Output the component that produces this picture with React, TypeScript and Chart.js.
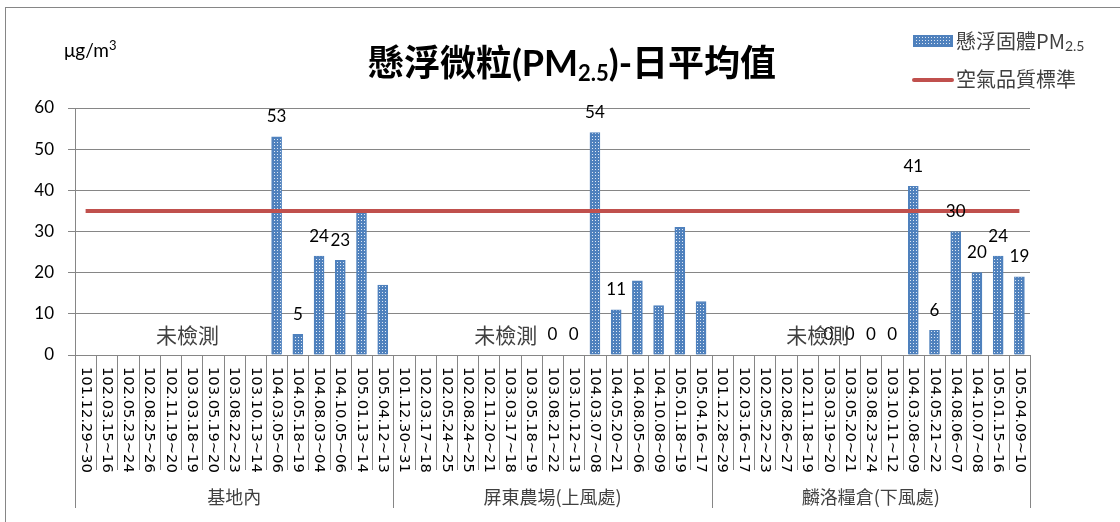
import { useEffect, useRef } from 'react';
import { Chart, registerables } from 'chart.js';
Chart.register(...registerables);

const groupNames = ['基地內', '屏東農場(上風處)', '麟洛糧倉(下風處)'];

const dates1 = ['101.12.29~30', '102.03.15~16', '102.05.23~24', '102.08.25~26', '102.11.19~20', '103.03.18~19', '103.05.19~20', '103.08.22~23', '103.10.13~14', '104.03.05~06', '104.05.18~19', '104.08.03~04', '104.10.05~06', '105.01.13~14', '105.04.12~13'];
const dates2 = ['101.12.30~31', '102.03.17~18', '102.05.24~25', '102.08.24~25', '102.11.20~21', '103.03.17~18', '103.05.18~19', '103.08.21~22', '103.10.12~13', '104.03.07~08', '104.05.20~21', '104.08.05~06', '104.10.08~09', '105.01.18~19', '105.04.16~17'];
const dates3 = ['101.12.28~29', '102.03.16~17', '102.05.22~23', '102.08.26~27', '102.11.18~19', '103.03.19~20', '103.05.20~21', '103.08.23~24', '103.10.11~12', '104.03.08~09', '104.05.21~22', '104.08.06~07', '104.10.07~08', '105.01.15~16', '105.04.09~10'];

const values1 = [null, null, null, null, null, null, null, null, null, 53, 5, 24, 23, 35, 17];
const values2 = [null, null, null, null, null, null, null, 0, 0, 54, 11, 18, 12, 31, 13];
const values3 = [null, null, null, null, null, 0, 0, 0, 0, 41, 6, 30, 20, 24, 19];

const labeled1 = [false, false, false, false, false, false, false, false, false, true, true, true, true, false, false];
const labeled2 = [false, false, false, false, false, false, false, true, true, true, true, false, false, false, false];
const labeled3 = [false, false, false, false, false, true, true, true, true, true, true, true, true, true, true];

const standard = [35, 35, 35, 35, 35, 35, 35, 35, 35, 35, 35, 35, 35, 35, 35,
  35, 35, 35, 35, 35, 35, 35, 35, 35, 35, 35, 35, 35, 35, 35,
  35, 35, 35, 35, 35, 35, 35, 35, 35, 35, 35, 35, 35, 35, 35];

const yTicks = [0, 10, 20, 30, 40, 50, 60];
const notMeasuredText = '未檢測';
const notMeasuredIndex = [4.8, 4.8, 4.5];

const categories = [...dates1, ...dates2, ...dates3];
const pm25 = [...values1, ...values2, ...values3];
const labeled = [...labeled1, ...labeled2, ...labeled3];
const groupSize = dates1.length;

const LAT = "Lato, 'Noto Sans CJK TC', sans-serif";
const CJK = "'Noto Sans CJK TC', Lato, sans-serif";
const GRID = '#868686';
const BLUE = '#4F81BD';
const RED = '#C0504D';

function makePattern(): CanvasPattern | string {
  const c = document.createElement('canvas');
  c.width = 3;
  c.height = 3;
  const g = c.getContext('2d');
  if (!g) return BLUE;
  g.fillStyle = BLUE;
  g.fillRect(0, 0, 3, 3);
  g.fillStyle = '#dfe8f4';
  g.fillRect(1, 1, 1, 1);
  const p = g.createPattern(c, 'repeat');
  return p || BLUE;
}

type Part = { text: string; font: string; dy: number };
function drawRich(ctx: CanvasRenderingContext2D, parts: Part[], x: number, y: number, align: 'center' | 'left', color: string) {
  ctx.save();
  ctx.fillStyle = color;
  ctx.textBaseline = 'middle';
  ctx.textAlign = 'left';
  let total = 0;
  const widths = parts.map((p) => {
    ctx.font = p.font;
    const w = ctx.measureText(p.text).width;
    total += w;
    return w;
  });
  let cx = align === 'center' ? x - total / 2 : x;
  parts.forEach((p, i) => {
    ctx.font = p.font;
    ctx.fillText(p.text, cx, y + p.dy);
    cx += widths[i];
  });
  ctx.restore();
}

export default function App() {
  const ref = useRef<HTMLCanvasElement | null>(null);

  useEffect(() => {
    if (!ref.current) return;
    const pattern = makePattern();

    const extras = {
      id: 'extras',
      beforeDraw(chart: any) {
        const ctx: CanvasRenderingContext2D = chart.ctx;
        ctx.save();
        ctx.fillStyle = '#ffffff';
        ctx.fillRect(0, 0, chart.width, chart.height);
        ctx.strokeStyle = GRID;
        ctx.lineWidth = 1;
        ctx.strokeRect(5.5, 7.5, chart.width + 20, chart.height + 20);
        ctx.restore();
      },
      afterDatasetsDraw(chart: any) {
        const ctx: CanvasRenderingContext2D = chart.ctx;
        const meta = chart.getDatasetMeta(1);
        const y = chart.scales.y;
        ctx.save();
        ctx.fillStyle = '#000000';
        ctx.font = `17px ${LAT}`;
        ctx.textAlign = 'center';
        ctx.textBaseline = 'middle';
        meta.data.forEach((el: any, i: number) => {
          const v = pm25[i];
          if (v === null || !labeled[i]) return;
          ctx.fillText(String(v), el.x, y.getPixelForValue(v) - 20);
        });
        ctx.restore();
      },
      afterDraw(chart: any) {
        const ctx: CanvasRenderingContext2D = chart.ctx;
        const x = chart.scales.x;
        const y = chart.scales.y;
        const area = chart.chartArea;
        const bottom = area.bottom;
        ctx.save();
        ctx.strokeStyle = GRID;
        ctx.lineWidth = 1;
        for (let i = 0; i <= categories.length; i++) {
          const px = Math.round(x.getPixelForValue(i - 0.5)) + 0.5;
          const isGroup = i % groupSize === 0;
          ctx.beginPath();
          ctx.moveTo(px, bottom);
          ctx.lineTo(px, bottom + (isGroup ? 153 : 115));
          ctx.stroke();
        }
        ctx.fillStyle = '#000000';
        ctx.font = "14.7px 'DejaVu Sans', sans-serif";
        ctx.textAlign = 'left';
        ctx.textBaseline = 'middle';
        categories.forEach((c, i) => {
          const px = x.getPixelForValue(i);
          ctx.save();
          ctx.translate(px, bottom + 12);
          ctx.rotate(Math.PI / 2);
          ctx.fillText(c, 0, 0);
          ctx.restore();
        });
        ctx.fillStyle = '#404040';
        ctx.font = `18px ${CJK}`;
        ctx.textAlign = 'center';
        groupNames.forEach((g, gi) => {
          const px = x.getPixelForValue(gi * groupSize + (groupSize - 1) / 2);
          ctx.fillText(g, px, bottom + 142);
        });
        ctx.font = `21px ${CJK}`;
        notMeasuredIndex.forEach((idx, gi) => {
          const px = x.getPixelForValue(gi * groupSize + idx);
          ctx.fillText(notMeasuredText, px, y.getPixelForValue(5) + 1);
        });
        ctx.restore();

        drawRich(ctx, [
          { text: 'μg/m', font: `19px ${LAT}`, dy: 0 },
          { text: '3', font: `13px ${LAT}`, dy: -5 },
        ], 64, 51, 'left', '#000000');

        drawRich(ctx, [
          { text: '懸浮微粒(PM', font: `bold 36px ${LAT}`, dy: 0 },
          { text: '2.5', font: `bold 22px ${LAT}`, dy: 10 },
          { text: ')-日平均值', font: `bold 36px ${LAT}`, dy: 0 },
        ], 572, 64, 'center', '#000000');

        ctx.save();
        ctx.fillStyle = pattern as any;
        ctx.fillRect(913, 35, 40, 12);
        ctx.strokeStyle = BLUE;
        ctx.lineWidth = 1;
        ctx.strokeRect(913.5, 35.5, 39, 11);
        ctx.strokeStyle = RED;
        ctx.lineWidth = 4;
        ctx.lineCap = 'round';
        ctx.beginPath();
        ctx.moveTo(914, 80);
        ctx.lineTo(952, 80);
        ctx.stroke();
        ctx.restore();
        drawRich(ctx, [
          { text: '懸浮固體PM', font: `20px ${CJK}`, dy: 0 },
          { text: '2.5', font: `14px ${LAT}`, dy: 5 },
        ], 956, 41, 'left', '#404040');
        drawRich(ctx, [
          { text: '空氣品質標準', font: `20px ${CJK}`, dy: 0 },
        ], 956, 79, 'left', '#404040');
      },
    };

    const chart = new Chart(ref.current, {
      type: 'bar',
      data: {
        labels: categories,
        datasets: [
          {
            type: 'line',
            label: '空氣品質標準',
            data: standard,
            borderColor: RED,
            borderWidth: 4,
            pointRadius: 0,
            fill: false,
            order: 0,
          } as any,
          {
            type: 'bar',
            label: '懸浮固體PM2.5',
            data: pm25,
            backgroundColor: pattern as any,
            borderColor: BLUE,
            borderWidth: 1,
            barThickness: 10,
            order: 1,
          } as any,
        ],
      },
      options: {
        animation: false,
        responsive: true,
        maintainAspectRatio: false,
        layout: { padding: { left: 0, top: 108, right: 90, bottom: 167 } },
        plugins: {
          legend: { display: false },
          title: { display: false },
          tooltip: { enabled: false },
        },
        scales: {
          x: {
            display: false,
            offset: true,
          },
          y: {
            min: 0,
            max: 60,
            afterFit(scale: any) {
              scale.width = 75;
            },
            afterBuildTicks(scale: any) {
              scale.ticks = yTicks.map((v) => ({ value: v }));
            },
            ticks: {
              color: '#000000',
              font: { family: LAT, size: 17 },
              padding: 14,
            },
            grid: {
              color: GRID,
              lineWidth: 1,
              tickLength: 7,
              drawTicks: true,
            },
            border: { display: true, color: GRID, width: 1 },
          },
        },
      },
      plugins: [extras],
    });
    return () => chart.destroy();
  }, []);

  return (
    <div style={{ position: 'fixed', left: 0, top: 0, width: 1120, height: 522 }}>
      <canvas ref={ref} />
    </div>
  );
}
